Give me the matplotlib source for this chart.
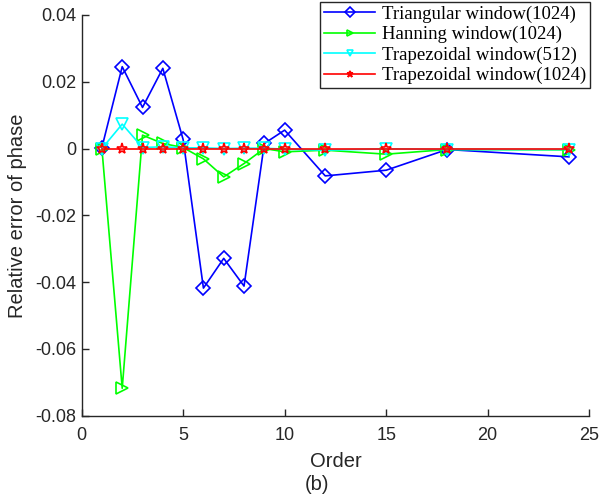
import numpy as np
import matplotlib
matplotlib.use('Agg')
import matplotlib.pyplot as plt

# Harmonic orders
order = [1, 2, 3, 4, 5, 6, 7, 8, 9, 10, 12, 15, 18, 24]

# Relative phase error for each window
tri_1024 = [0.0003, 0.0245, 0.0123, 0.0240, 0.0027, -0.0418, -0.0329, -0.0412,
            0.0015, 0.0055, -0.0082, -0.0065, -0.0003, -0.0025]
han_1024 = [0.0, -0.0718, 0.0040, 0.0015, 0.0003, -0.0031, -0.0085, -0.0045,
            0.0, -0.0010, -0.0005, -0.0017, -0.0003, -0.0004]
trap_512 = [0.0, 0.0073, 0.0003, 0.0005, 0.0002, 0.0002, 0.0, 0.0001,
            0.0001, -0.0002, -0.0005, -0.0001, -0.0003, -0.0003]
trap_1024 = [0.0] * len(order)

labels = ['Triangular window(1024)', 'Hanning window(1024)',
          'Trapezoidal window(512)', 'Trapezoidal window(1024)']

fig = plt.figure(figsize=(6, 4.97), dpi=100)
ax = fig.add_axes([0.136, 0.1636, 0.846, 0.8064])

ax.plot(order, tri_1024, color='#0000ff', marker='D', mfc='none', markersize=7,
        linewidth=1.2, markeredgewidth=1.2, label=labels[0])
ax.plot(order, han_1024, color='#00ff00', marker='>', mfc='none', markersize=8,
        linewidth=1.2, markeredgewidth=1.2, label=labels[1])
ax.plot(order, trap_512, color='#00ffff', marker='v', mfc='none', markersize=8,
        linewidth=1.2, markeredgewidth=1.2, label=labels[2])
ax.plot(order, trap_1024, color='#ff0000', marker='*', mfc='none', markersize=8,
        linewidth=1.2, markeredgewidth=1.2, label=labels[3])

ax.set_xlim(0, 25)
ax.set_ylim(-0.08, 0.04)
ax.set_xticks([0, 5, 10, 15, 20, 25])
ax.set_yticks([-0.08, -0.06, -0.04, -0.02, 0, 0.02, 0.04])
ax.set_yticklabels(['-0.08', '-0.06', '-0.04', '-0.02', '0', '0.02', '0.04'])
ax.spines['top'].set_visible(False)
ax.spines['right'].set_visible(False)
for s in ['left', 'bottom']:
    ax.spines[s].set_color('#262626')
    ax.spines[s].set_linewidth(1.0)
ax.tick_params(direction='in', length=5, width=1.0, colors='#262626',
               labelsize=13, labelcolor='#262626')
ax.tick_params(axis='x', pad=8)
for t in ax.get_xticklabels() + ax.get_yticklabels():
    t.set_family('Liberation Sans')

ax.set_xlabel('Order', fontsize=14.5, family='Liberation Sans', color='#262626', labelpad=6)
ax.set_ylabel('Relative error of phase', fontsize=14.5, family='Liberation Sans',
              color='#262626', labelpad=6)
fig.text(305 / 600, 1 - 490 / 497, '(b)', fontsize=14.5, family='Liberation Sans',
         color='#262626', ha='left', va='baseline')

leg = ax.legend(loc='lower right', bbox_to_anchor=(590 / 600, 1 - 88 / 497),
                bbox_transform=fig.transFigure, borderaxespad=0,
                prop={'family': 'Liberation Serif', 'size': 13.5},
                fancybox=False, edgecolor='#262626', framealpha=1,
                handlelength=2.75, handletextpad=0.35, labelspacing=0.17,
                borderpad=0.2)
leg.get_frame().set_linewidth(1.0)
for h in leg.legend_handles:
    h.set_markersize(5)

plt.savefig('out.png', dpi=100)
plt.close(fig)
